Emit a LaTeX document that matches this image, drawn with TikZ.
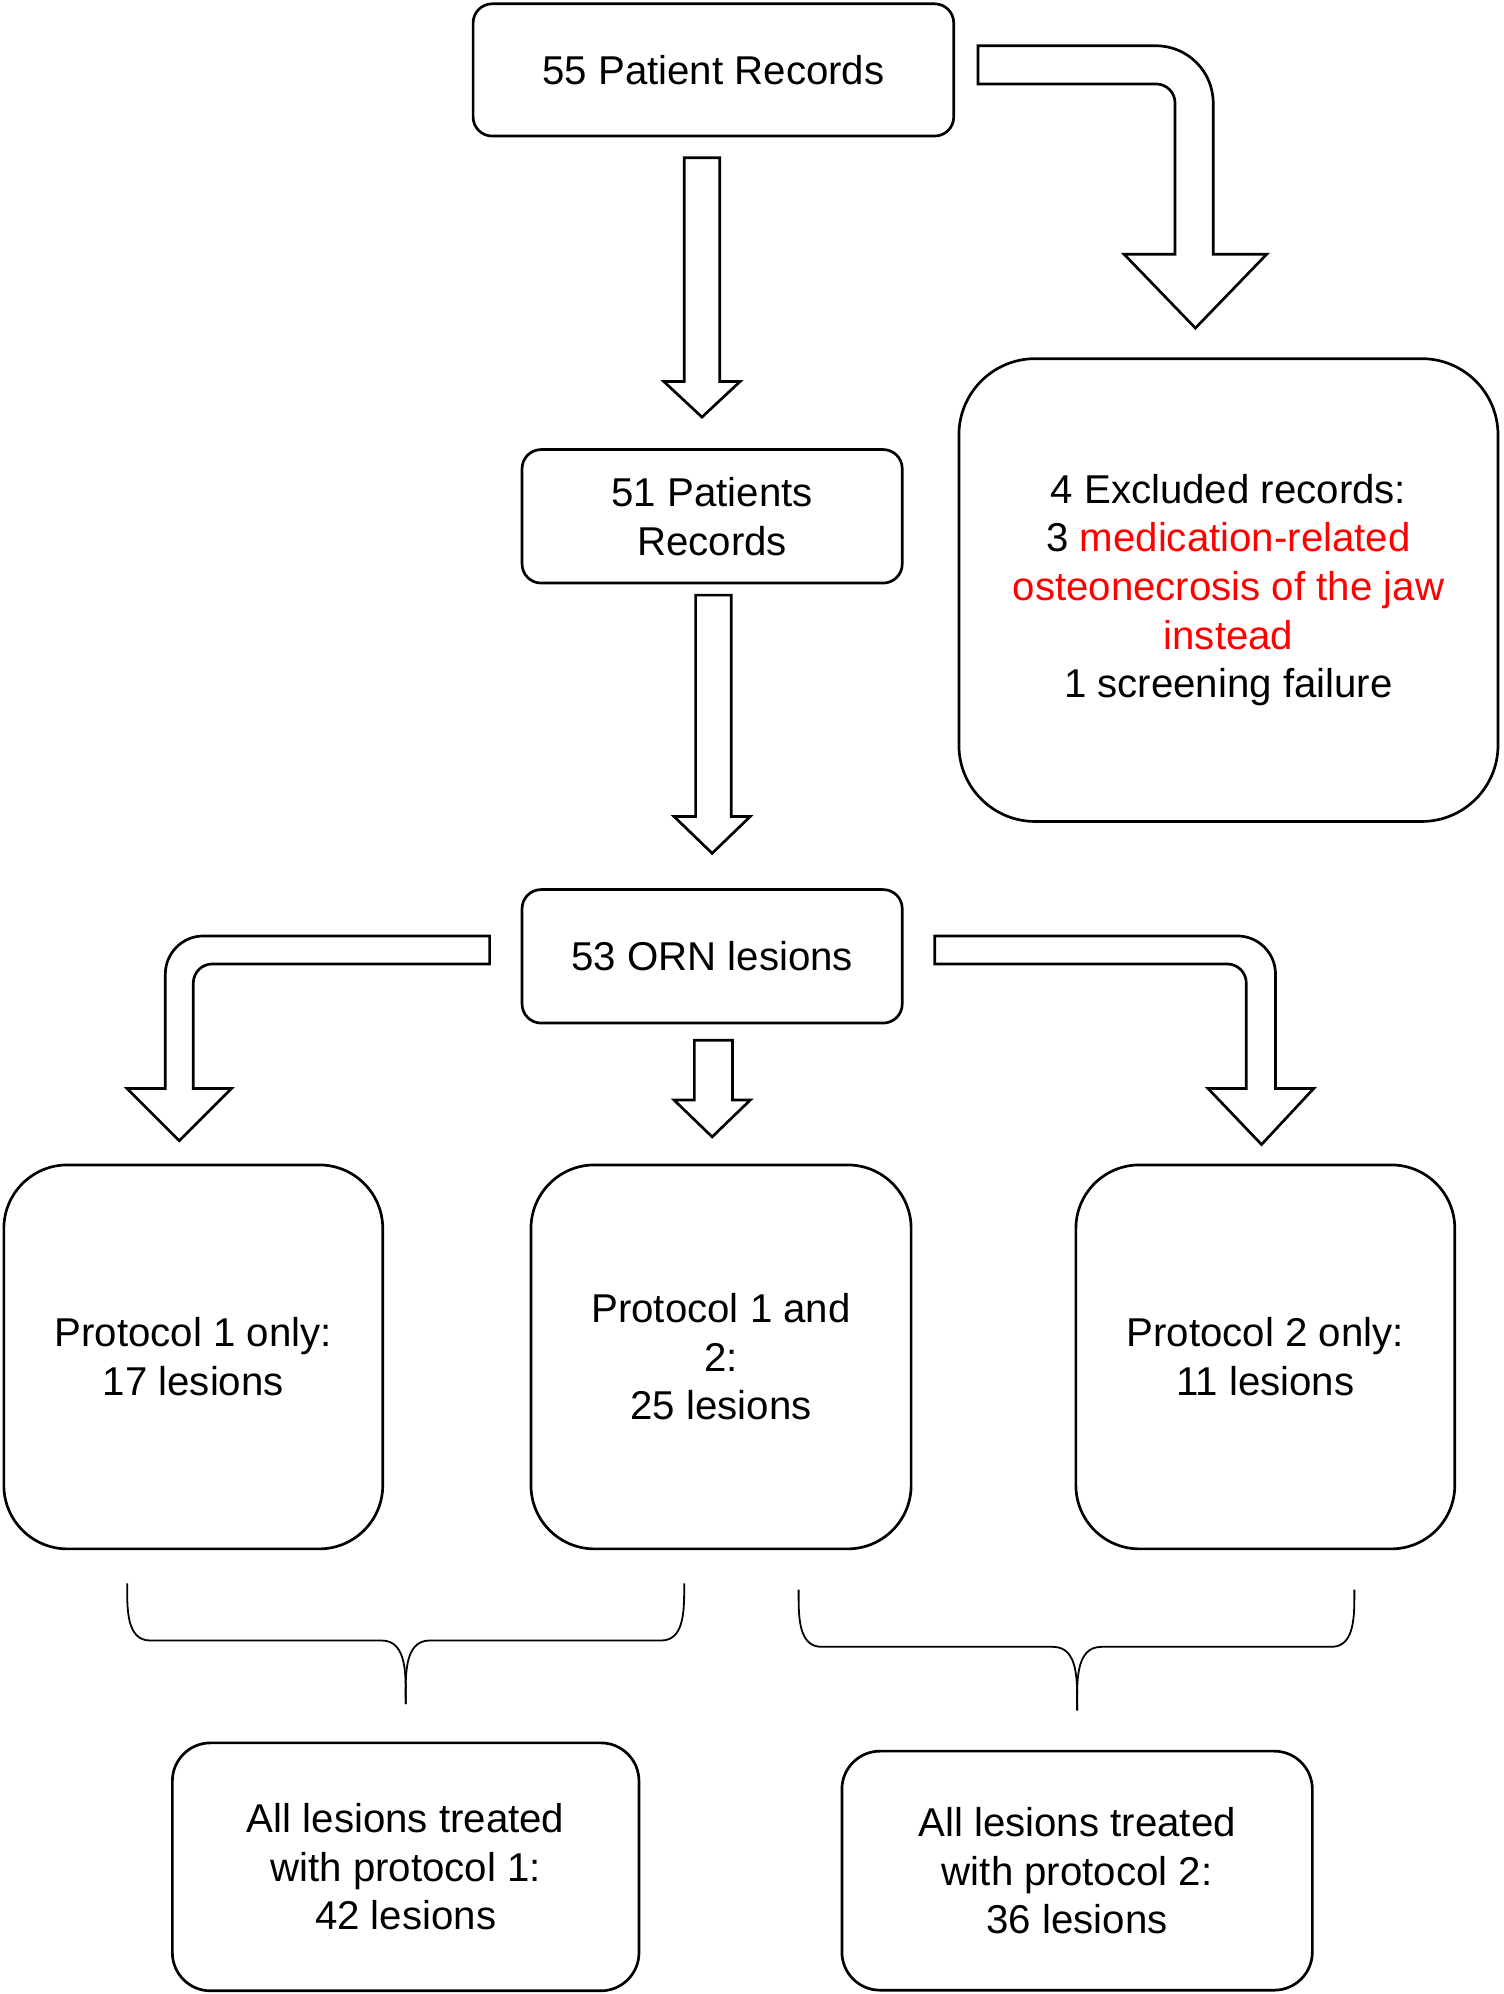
\documentclass[tikz,border=0pt]{standalone}
\usepackage{fontspec}
\setmainfont{Liberation Sans}
\usetikzlibrary{positioning}
\tikzset{
  box/.style={draw, line width=1.2pt, align=center, font=\fontsize{18}{21.8}\selectfont},
  blockarrow/.style={draw, line width=1.2pt, fill=white, line join=miter},
  brace/.style={draw, line width=0.8pt}
}
\begin{document}
\begin{tikzpicture}[x=0.02cm, y=-0.02cm]
			\useasboundingbox (0,0) rectangle (1182,1568);
			
			% Boxes
			\node[box, rounded corners=0.3cm, minimum width=7.56cm, minimum height=2.08cm] (rec) at (561,55) {55 Patient Records};
			\node[box, rounded corners=0.3cm, minimum width=5.98cm, minimum height=2.1cm] (pat) at (560,406) {51 Patients\\Records};
			\node[box, rounded corners=1.2cm, minimum width=8.48cm, minimum height=7.28cm] (excl) at (966,464)
			{4 Excluded records:\\3 \textcolor{red}{medication-related}\\\textcolor{red}{osteonecrosis of the jaw}\\\textcolor{red}{instead}\\1 screening failure};
			\node[box, rounded corners=0.3cm, minimum width=5.98cm, minimum height=2.1cm] (orn) at (560,752) {53 ORN lesions};
			\node[box, rounded corners=1cm, minimum width=5.96cm, minimum height=6.04cm] (pone) at (152,1067) {Protocol 1 only:\\17 lesions};
			\node[box, rounded corners=1cm, minimum width=5.98cm, minimum height=6.04cm] (pboth) at (567,1067) {Protocol 1 and\\2:\\25 lesions};
			\node[box, rounded corners=1cm, minimum width=5.96cm, minimum height=6.04cm] (ptwo) at (995,1067) {Protocol 2 only:\\11 lesions};
			\node[box, rounded corners=0.6cm, minimum width=7.34cm, minimum height=3.9cm] (allone) at (319,1468) {All lesions treated\\with protocol 1:\\42 lesions};
			\node[box, rounded corners=0.6cm, minimum width=7.4cm, minimum height=3.76cm] (alltwo) at (847,1471) {All lesions treated\\with protocol 2:\\36 lesions};
			
			% Straight block arrows
			\draw[blockarrow] (538,124) -- (566,124) -- (566,300) -- (582,300) -- (552,328) -- (522,300) -- (538,300) -- cycle;
			\draw[blockarrow] (547,468) -- (575,468) -- (575,642) -- (590,642) -- (560,671) -- (530,642) -- (547,642) -- cycle;
			\draw[blockarrow] (546,818) -- (576,818) -- (576,865) -- (590,865) -- (560,894) -- (530,865) -- (546,865) -- cycle;
			
			% Bent block arrows
			\draw[blockarrow] (769,36) [rounded corners=0.9cm] -- (954,36) [sharp corners] -- (954,200) -- (996,200) -- (940,258) -- (884,200) -- (924,200)
			[rounded corners=0.3cm] -- (924,66) [sharp corners] -- (769,66) -- cycle;
			\draw[blockarrow] (385,736) [rounded corners=0.6cm] -- (130,736) [sharp corners] -- (130,856) -- (100,856) -- (141,897) -- (182,856) -- (152,856)
			[rounded corners=0.3cm] -- (152,758) [sharp corners] -- (385,758) -- cycle;
			\draw[blockarrow] (735,736) [rounded corners=0.6cm] -- (1003,736) [sharp corners] -- (1003,856) -- (1033,856) -- (992,900) -- (950,856) -- (980,856)
			[rounded corners=0.3cm] -- (980,758) [sharp corners] -- (735,758) -- cycle;
			
			% Braces
			\draw[brace] (100,1245) to[out=-90,in=180] (118,1290) -- (300,1290) to[out=0,in=90] (319,1340);
			\draw[brace] (538,1245) to[out=-90,in=0] (520,1290) -- (338,1290) to[out=180,in=90] (319,1340);
			\draw[brace] (628,1250) to[out=-90,in=180] (646,1295) -- (828,1295) to[out=0,in=90] (847,1345);
			\draw[brace] (1065,1250) to[out=-90,in=0] (1047,1295) -- (866,1295) to[out=180,in=90] (847,1345);
			
		\end{tikzpicture}
\end{document}
